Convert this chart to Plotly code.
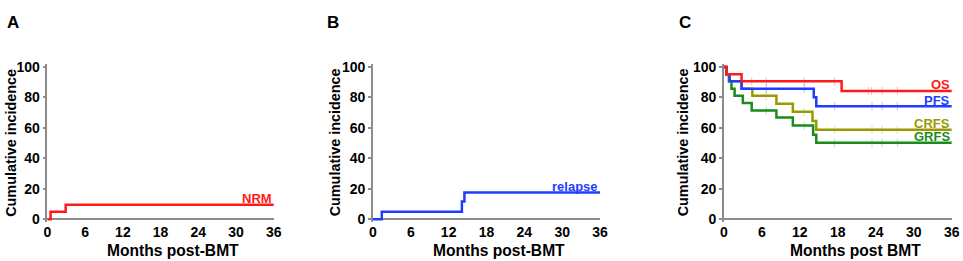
import plotly.graph_objects as go

# ---------------- data ----------------
months_ticks = [0, 6, 12, 18, 24, 30, 36]
pct_ticks = [0, 20, 40, 60, 80, 100]

nrm_t = [0, 0.5, 2.9, 36]
nrm_v = [0, 4.8, 9.5, 9.5]

relapse_t = [0, 1.4, 14.1, 14.5, 36]
relapse_v = [0, 4.8, 11.5, 17.5, 17.5]

os_t = [0, 0.4, 2.8, 18.6, 36]
os_v = [100, 95.2, 90.5, 84.2, 84.2]

pfs_t = [0, 0.4, 0.9, 2.8, 14.2, 14.6, 36]
pfs_v = [100, 95.2, 90.5, 85.7, 80.0, 74.2, 74.2]

crfs_t = [0, 0.4, 0.9, 2.8, 4.5, 8.3, 10.9, 14.0, 14.6, 36]
crfs_v = [100, 95.2, 90.5, 85.7, 81.0, 75.8, 70.5, 64.5, 58.7, 58.7]

grfs_t = [0, 0.4, 0.8, 1.2, 1.7, 3.0, 4.4, 8.3, 10.9, 14.1, 14.6, 36]
grfs_v = [100, 95.2, 90.5, 85.7, 81.0, 76.2, 71.4, 66.7, 61.5, 55.5, 50.1, 50.1]

os_cens = [4.4, 6.7, 12.7, 17.5, 22.8, 23.3, 25.0, 27.4]
pfs_cens = [6.7, 12.7, 17.5, 23.4, 25.0, 27.4]
crfs_cens = [6.7, 12.7, 17.5, 23.4, 25.0, 27.4]
grfs_cens = [6.7, 12.7, 17.5, 23.4, 25.0, 27.4]

RED = "#ff1a1a"
BLUE = "#1f3cff"
OLIVE = "#999900"
GREEN = "#1a8c1a"
GRAY = "#8c8c8c"
FONT = "Liberation Sans, Arial, sans-serif"


def step_value(ts, vs, t):
    v = vs[0]
    for ti, vi in zip(ts, vs):
        if ti <= t:
            v = vi
    return v


fig = go.Figure()


def add_curve(ts, vs, color, xa, ya, name):
    fig.add_trace(go.Scatter(x=ts, y=vs, mode="lines", line=dict(color=color, width=2.5, shape="hv"),
                             xaxis=xa, yaxis=ya, name=name, showlegend=False, hoverinfo="skip"))


def add_cens(ts, vs, cens, color, xa, ya):
    fig.add_trace(go.Scatter(x=cens, y=[step_value(ts, vs, c) for c in cens], mode="markers",
                             marker=dict(symbol="line-ns", size=6, line=dict(color=color, width=1)),
                             opacity=0.3, xaxis=xa, yaxis=ya, showlegend=False, hoverinfo="skip"))


# Panel A
add_curve(nrm_t, nrm_v, RED, "x", "y", "NRM")
# Panel B
add_curve(relapse_t, relapse_v, BLUE, "x2", "y2", "relapse")
# Panel C
for ts, vs, cens, col, nm in [(grfs_t, grfs_v, grfs_cens, GREEN, "GRFS"),
                              (crfs_t, crfs_v, crfs_cens, OLIVE, "CRFS"),
                              (pfs_t, pfs_v, pfs_cens, BLUE, "PFS"),
                              (os_t, os_v, os_cens, RED, "OS")]:
    add_curve(ts, vs, col, "x3", "y3", nm)
    add_cens(ts, vs, cens, col, "x3", "y3")

W, H = 963, 261


# map target picture pixels to figure pixels (compensates capture framing)
def fx(p):
    return (p - 4.8) / 0.989


def fy(p):
    return (p - 4.8) / 0.962


def px(p):
    return fx(p) / W


def py(p):
    return 1 - fy(p) / H


xdoms = [[px(48.3), px(275.0)], [px(374.3), px(601.7)], [px(725.7), px(954.0)]]
# y: value 0 at picture y=219, value 100 at y=66.7; range extended by 2 units each side
unit = (fy(219.0) - fy(66.7)) / 100.0
ybot = fy(219.0) + 2 * unit
ytop = fy(66.7) - 2 * unit
ydom = [1 - ybot / H, 1 - ytop / H]

layout = dict(width=W, height=H, margin=dict(l=0, r=0, t=0, b=0),
              paper_bgcolor="white", plot_bgcolor="white",
              font=dict(family=FONT, color="black"))
for i, xd in enumerate(xdoms):
    sfx = "" if i == 0 else str(i + 1)
    layout["xaxis" + sfx] = dict(domain=xd, range=[0, 36], tickvals=months_ticks, ticks="",
                                 showline=False, showgrid=False, zeroline=False,
                                 tickfont=dict(size=14, family=FONT, weight="bold", color="black"),
                                 anchor="y" + sfx, fixedrange=True)
    layout["yaxis" + sfx] = dict(domain=ydom, range=[-2, 102], tickvals=pct_ticks, ticks="outside",
                                 ticklen=3, tickwidth=1.5, tickcolor=GRAY,
                                 showline=True, linecolor=GRAY, linewidth=1.5,
                                 showgrid=False, zeroline=True, zerolinecolor=GRAY, zerolinewidth=1.5,
                                 tickfont=dict(size=14, family=FONT, weight="bold", color="black"),
                                 anchor="x" + sfx, fixedrange=True)
fig.update_layout(**layout)

ann = []
bold = dict(family=FONT, weight="bold", color="black")
# panel letters
for letter, xc in [("A", 14), ("B", 334.5), ("C", 686.5)]:
    ann.append(dict(text=letter, x=px(xc), y=py(22.5), xref="paper", yref="paper", showarrow=False,
                    xanchor="center", yanchor="middle", font=dict(size=17, **bold)))
# y titles
for xc in [11, 336, 684.5]:
    ann.append(dict(text="Cumulative incidence", x=px(xc), y=py(142.5), xref="paper", yref="paper",
                    showarrow=False, textangle=-90, xanchor="center", yanchor="middle",
                    font=dict(size=14.4, **bold)))
# x titles
for txt, xc in [("Months post-BMT", 174), ("Months post-BMT", 501), ("Months post BMT", 858)]:
    ann.append(dict(text=txt, x=px(xc), y=py(250.5), xref="paper", yref="paper", showarrow=False,
                    xanchor="center", yanchor="middle", font=dict(size=15.6, **bold)))
# curve labels
for txt, vs, col, xa, ya in [("NRM", nrm_v, RED, "x", "y"), ("relapse", relapse_v, BLUE, "x2", "y2"),
                             ("OS", os_v, RED, "x3", "y3"), ("PFS", pfs_v, BLUE, "x3", "y3"),
                             ("CRFS", crfs_v, OLIVE, "x3", "y3"), ("GRFS", grfs_v, GREEN, "x3", "y3")]:
    ann.append(dict(text=txt, x=36, y=vs[-1], xref=xa, yref=ya, showarrow=False,
                    xanchor="right", yanchor="middle", yshift=6,
                    font=dict(size=13, family=FONT, weight="bold", color=col)))
fig.update_layout(annotations=ann)

post = (
    "var h=document.documentElement,b=document.body;"
    "h.style.margin='0';h.style.padding='0';h.style.overflow='hidden';h.style.height='261px';"
    "b.style.margin='0';b.style.padding='0';b.style.overflow='hidden';b.style.height='261px';"
    "var d=document.getElementById('{plot_id}');"
    "d.style.position='fixed';d.style.left='0px';d.style.top='0px';"
    "window.scrollTo(0,0);"
)
fig.write_html("out.html", config={"displayModeBar": False}, post_script=post)
